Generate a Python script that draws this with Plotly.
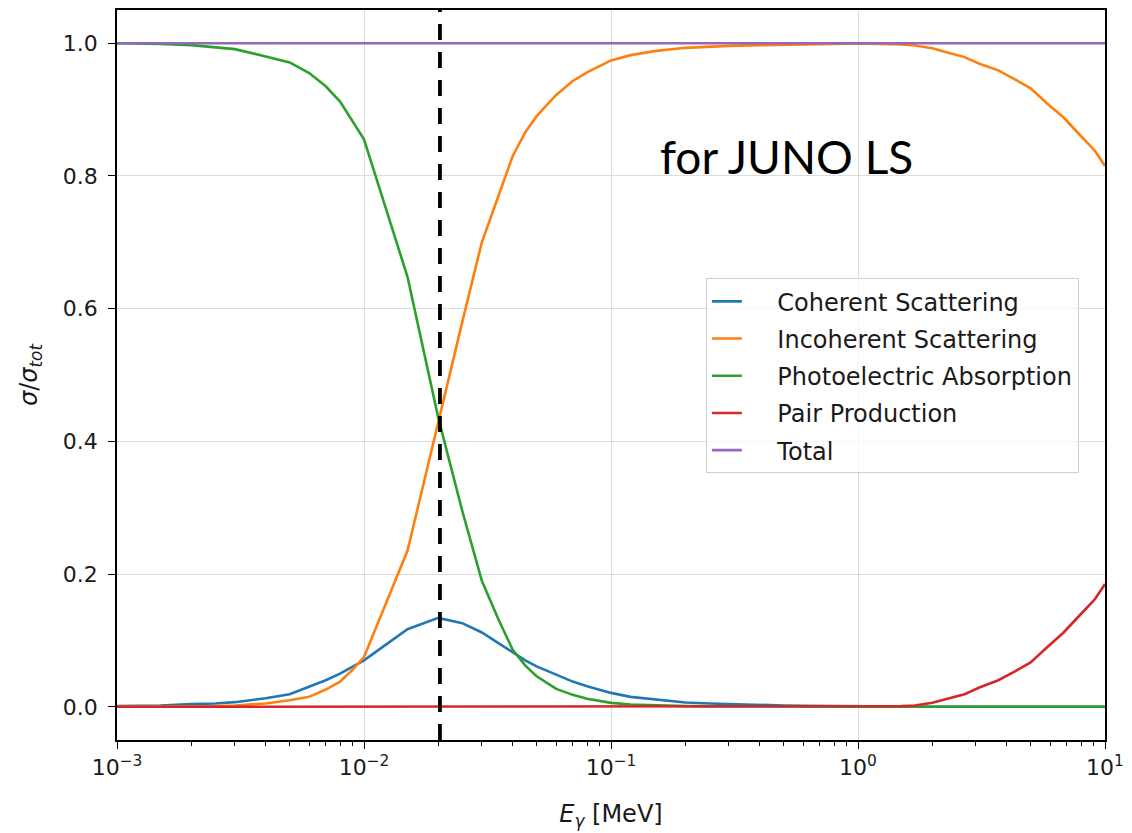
import plotly.graph_objects as go

energy = [0.001, 0.0015, 0.002, 0.0025, 0.003, 0.004, 0.005, 0.006, 0.007, 0.008, 0.009, 0.01,
          0.015, 0.02, 0.025, 0.03, 0.035, 0.04, 0.045, 0.05, 0.06, 0.07, 0.08, 0.1, 0.12, 0.15,
          0.2, 0.25, 0.3, 0.4, 0.5, 0.6, 0.8, 1.0, 1.25, 1.5, 1.7, 2.0, 2.3, 2.7, 3.1, 3.7, 4.3,
          5.0, 5.8, 6.8, 7.9, 9.1, 10.0]

coherent = [0.001, 0.002, 0.004, 0.005, 0.007, 0.013, 0.019, 0.030, 0.040, 0.050, 0.060, 0.070,
            0.117, 0.134, 0.126, 0.112, 0.096, 0.082, 0.070, 0.061, 0.048, 0.038, 0.031, 0.021, 0.015, 0.011,
            0.0065, 0.005, 0.004, 0.003, 0.002, 0.0015, 0.001, 0.0005, 0.0004, 0.0003, 0.0003, 0.0002, 0.0002, 0.0001, 0.0001, 0.0001, 0.0,
            0.0, 0.0, 0.0, 0.0, 0.0, 0.0]

incoherent = [0.0, 0.0, 0.0005, 0.001, 0.002, 0.005, 0.010, 0.015, 0.026, 0.038, 0.056, 0.075,
              0.235, 0.432, 0.580, 0.700, 0.770, 0.830, 0.866, 0.890, 0.922, 0.943, 0.956, 0.974, 0.982, 0.988,
              0.993, 0.995, 0.996, 0.997, 0.998, 0.9985, 0.999, 0.9995, 0.9993, 0.998, 0.9965, 0.9925, 0.986, 0.979, 0.969, 0.959, 0.946,
              0.932, 0.910, 0.888, 0.862, 0.838, 0.815]

photoelectric = [1.0, 0.999, 0.997, 0.994, 0.991, 0.980, 0.971, 0.955, 0.935, 0.912, 0.882, 0.855,
                 0.648, 0.435, 0.295, 0.190, 0.132, 0.086, 0.062, 0.046, 0.027, 0.018, 0.012, 0.006, 0.0035, 0.002,
                 0.001, 0.0007, 0.0005, 0.0002, 0.0001, 0.0, 0.0, 0.0, 0.0, 0.0, 0.0, 0.0, 0.0, 0.0, 0.0, 0.0, 0.0,
                 0.0, 0.0, 0.0, 0.0, 0.0, 0.0]

pair = [0.0] * 34 + [0.0003, 0.001, 0.002, 0.006, 0.012, 0.019, 0.029, 0.040, 0.053,
                     0.067, 0.089, 0.112, 0.138, 0.162, 0.185]

total = [1.0] * len(energy)

marker_energy = [0.0203, 0.0203]
marker_y = [-0.05, 1.05]

series = [
    ("Coherent Scattering", coherent, "#1f77b4"),
    ("Incoherent Scattering", incoherent, "#ff7f0e"),
    ("Photoelectric Absorption", photoelectric, "#2ca02c"),
    ("Pair Production", pair, "#d62728"),
    ("Total", total, "#9467bd"),
]

pad = "\u00a0" * 4

fig = go.Figure()
for i, (name, vals, col) in enumerate(series):
    fig.add_trace(go.Scatter(x=energy, y=vals, mode="lines", name=pad + name,
                             line=dict(color=col, width=2.6), legendgroup=f"g{i}"))

fig.add_trace(go.Scatter(x=marker_energy, y=marker_y, mode="lines", showlegend=False,
                         line=dict(color="black", width=3.8, dash="16px,12px")))

font = "DejaVu Sans"
txt = "#1a1a1a"
fig.update_layout(
    width=1132, height=833,
    margin=dict(l=117, r=24, t=8, b=93),
    paper_bgcolor="white", plot_bgcolor="white",
    font=dict(family=font, size=22, color=txt),
    legend=dict(x=0.596, y=0.6325, xanchor="left", yanchor="top",
                bordercolor="#d0d0d0", borderwidth=1, bgcolor="rgba(255,255,255,0.8)",
                font=dict(size=24, family=font, color=txt), tracegroupgap=3),
    xaxis=dict(type="log", range=[-3, 1],
               tickmode="array", tickvals=[0.001, 0.01, 0.1, 1, 10],
               ticktext=["10<sup>−3</sup>", "10<sup>−2</sup>", "10<sup>−1</sup>", "10<sup>0</sup>", "10<sup>1</sup>"],
               showline=True, mirror=True, linecolor="black", linewidth=1.5,
               ticks="outside", ticklen=7, tickwidth=1.3, tickcolor="black",
               showgrid=True, gridcolor="#dcdcdc", gridwidth=1, zeroline=False,
               tickfont=dict(size=22),
               minor=dict(dtick="D1", ticks="outside", ticklen=4, tickcolor="black", tickwidth=1, showgrid=False),
               title=dict(text="<i>E</i><sub><i>γ</i></sub> [MeV]", font=dict(size=24, family=font), standoff=26)),
    yaxis=dict(range=[-0.05, 1.05], tickmode="array", tickvals=[0, 0.2, 0.4, 0.6, 0.8, 1.0],
               tickformat=".1f",
               showline=True, mirror=True, linecolor="black", linewidth=1.5,
               ticks="outside", ticklen=7, tickwidth=1.3, tickcolor="black",
               showgrid=True, gridcolor="#dcdcdc", gridwidth=1, zeroline=False,
               tickfont=dict(size=22), ticklabelstandoff=6,
               title=dict(text="<i>σ</i>/<i>σ</i><sub><i>tot</i></sub>", font=dict(size=24, family=font), standoff=18)),
    annotations=[dict(text="for JUNO LS", x=0.678, y=0.799, xref="paper", yref="paper",
                      xanchor="center", yanchor="middle", showarrow=False,
                      font=dict(family="Lato", size=46, color="black"))],
)

fig.write_html("out.html")
